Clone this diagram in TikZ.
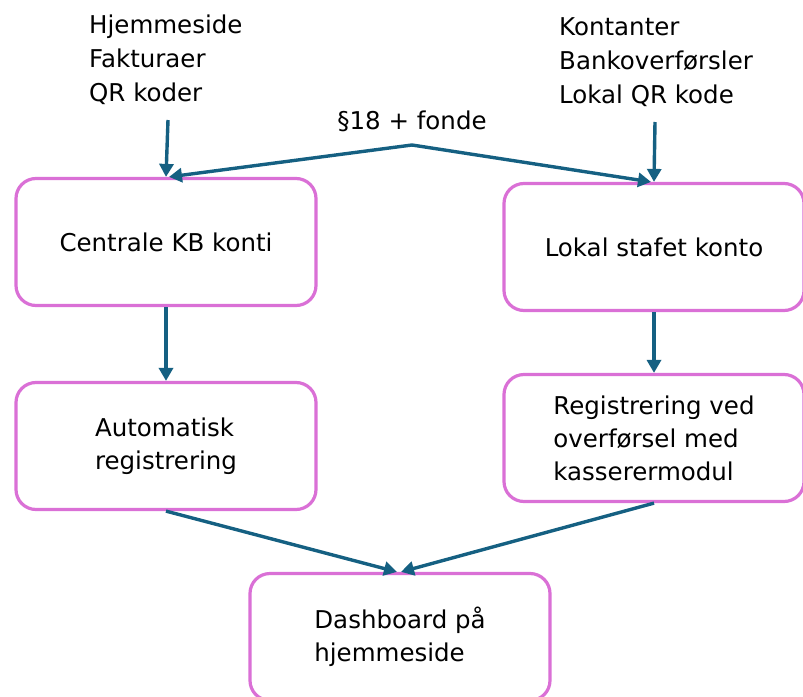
\documentclass[tikz,border=0pt]{standalone}
\usepackage{fontspec}
\setmainfont{DejaVu Sans}
\usetikzlibrary{arrows.meta}
\definecolor{boxpink}{RGB}{218,112,214}
\definecolor{arrowblue}{RGB}{21,96,130}
\begin{document}
\begin{tikzpicture}[x=1pt, y=-1pt,
    konto/.style={rectangle, rounded corners=20pt, draw=boxpink, line width=3.2pt, fill=white,
      minimum width=300pt, minimum height=127pt, align=left, font=\fontsize{24.5}{33}\selectfont},
    liste/.style={align=left, inner sep=0pt, font=\fontsize{24.5}{34}\selectfont},
    flow/.style={draw=arrowblue, line width=3.4pt, -{Triangle[width=14pt, length=13pt]}}]
    \useasboundingbox (0,0) rectangle (803,696);
    \node[liste, anchor=west] (kilderc) at (89,60) {Hjemmeside\\Fakturaer\\QR koder};
    \node[liste, anchor=west] (kilderl) at (559,62) {Kontanter\\Bankoverførsler\\Lokal QR kode};
    \node[font=\fontsize{24.5}{26}\selectfont, inner sep=0pt] (fonde) at (412,121) {§18 + fonde};
    \node[konto] (cen) at (166,242) {Centrale KB konti};
    \node[konto] (lok) at (654,247) {Lokal stafet konto};
    \node[konto] (aut) at (166,446) {Automatisk\\registrering};
    \node[konto] (reg) at (654,438) {Registrering ved\\overførsel med\\kasserermodul};
    \node[konto] (dash) at (400,637) {Dashboard på\\hjemmeside};
    \coordinate (startc) at (168,120);
    \coordinate (startl) at (655,122);
    \coordinate (deling) at (412,145);
    \draw[flow] (startc) -- (cen.north);
    \draw[flow] (startl) -- (lok.north);
    \draw[flow] (deling) -- ([xshift=3pt]cen.north);
    \draw[flow] (deling) -- ([xshift=-3pt]lok.north);
    \draw[flow] (cen) -- (aut);
    \draw[flow] (lok) -- (reg);
    \draw[flow] (aut.south) -- ([xshift=-3pt]dash.north);
    \draw[flow] (reg.south) -- ([xshift=1pt]dash.north);
  \end{tikzpicture}
\end{document}
